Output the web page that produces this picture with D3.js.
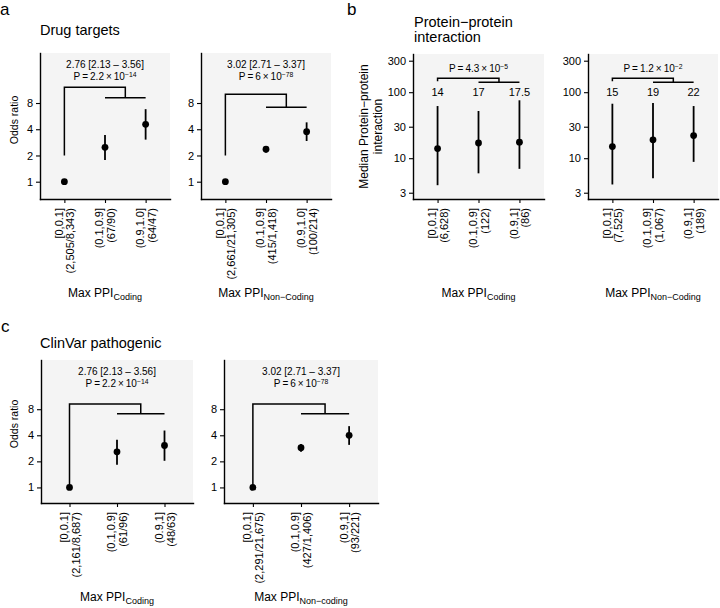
<!DOCTYPE html>
<html><head><meta charset="utf-8">
<script src="https://cdn.jsdelivr.net/npm/d3@7"></script>
<style>
body{margin:0;background:#fff}
svg{display:block;font-family:"Liberation Sans",Arial,Helvetica,sans-serif}
</style>
</head><body>
<svg id="chart" width="720" height="608"></svg>
<script>
// ---------------- data ----------------
const catsDrug = ["[0,0.1]", "(0.1,0.9]", "(0.9,1.0]"];
const catsOther = ["[0,0.1]", "(0.1,0.9]", "(0.9,1]"];

const drugCodingN = ["(2,505/8,343)", "(67/90)", "(64/47)"];
const drugCodingOR = [1, 2.48, 4.56];
const drugCodingLo = [1, 1.77, 3.04];
const drugCodingHi = [1, 3.44, 6.8];

const drugNonCodingN = ["(2,661/21,305)", "(415/1,418)", "(100/214)"];
const drugNonCodingOR = [1, 2.36, 3.75];
const drugNonCodingLo = [1, 2.15, 2.93];
const drugNonCodingHi = [1, 2.57, 4.8];

const ppiCodingN = ["(6,628)", "(122)", "(86)"];
const ppiCodingMed = [14, 17, 17.5];
const ppiCodingLo = [3.9, 5.9, 6.9];
const ppiCodingHi = [61.7, 51.9, 75.4];

const ppiNonCodingN = ["(7,525)", "(1,067)", "(189)"];
const ppiNonCodingMed = [15, 19, 22];
const ppiNonCodingLo = [4.0, 4.95, 8.8];
const ppiNonCodingHi = [66.9, 68.5, 61.7];

const clinCodingN = ["(2,161/8,687)", "(61/96)", "(48/63)"];
const clinCodingOR = [1, 2.58, 3.05];
const clinCodingLo = [1, 1.83, 2.03];
const clinCodingHi = [1, 3.55, 4.54];

const clinNonCodingN = ["(2,291/21,675)", "(427/1,406)", "(93/221)"];
const clinNonCodingOR = [1, 2.87, 4.0];
const clinNonCodingLo = [1, 2.58, 3.1];
const clinNonCodingHi = [1, 3.17, 5.1];

const orTicks = [1, 2, 4, 8];
const ppiTicks = [3, 10, 30, 100, 300];

// annotation texts
const orTextCoding = "2.76 [2.13 \u2013 3.56]";
const orTextNonCoding = "3.02 [2.71 \u2013 3.37]";
const pCodingOR = ["2.2", "\u221214"];
const pNonCodingOR = ["6", "\u221278"];
const pPpiCoding = ["4.3", "\u22125"];
const pPpiNonCoding = ["1.2", "\u22122"];

// bracket levels (in data units): [leg start, top, bar]
const drugCodingBracket = [2, 12.1, 9.2];
const drugNonCodingBracket = [2, 10.1, 7.16];
const clinCodingBracket = [1, 9.2, 7.07];
const clinNonCodingBracket = [1, 9.2, 7.07];
const ppiBracket = [162, 141];
const ppiMedLabelY = 100;

// ---------------- drawing ----------------
const svg = d3.select("#chart");
const FONT_TICK = 11;
const INK = "#000";

function pText(sel, x, y, parts, size) {
  const t = sel.append("text").attr("x", x).attr("y", y)
    .attr("text-anchor", "middle").attr("font-size", size).attr("fill", INK);
  t.append("tspan").text("P\u2009=\u2009" + parts[0] + "\u2009\u00d7\u200910");
  t.append("tspan").attr("font-size", size * 0.68).attr("dy", -size * 0.34).text(parts[1]);
  return t;
}

function panel(cfg) {
  const g = svg.append("g");
  const x = d3.scalePoint().domain([0, 1, 2]).range([cfg.x0, cfg.x1]).padding(0.6);
  const y = d3.scaleLog().domain(cfg.ydom).range([cfg.y1, cfg.y0]);

  g.append("rect").attr("x", cfg.x0).attr("y", cfg.y0)
    .attr("width", cfg.x1 - cfg.x0).attr("height", cfg.y1 - cfg.y0)
    .attr("fill", "#f4f4f4");

  const ya = g.append("g").attr("transform", `translate(${cfg.x0},0)`)
    .call(d3.axisLeft(y).tickValues(cfg.ticks).tickFormat(d3.format("d"))
      .tickSize(4).tickSizeOuter(0).tickPadding(3));
  const xa = g.append("g").attr("transform", `translate(0,${cfg.y1})`)
    .call(d3.axisBottom(x).tickFormat("").tickSize(4).tickSizeOuter(0));
  [ya, xa].forEach(a => {
    a.select(".domain").attr("stroke", INK).attr("stroke-width", 1.4).attr("stroke-linecap", "square");
    a.selectAll(".tick line").attr("stroke", INK).attr("stroke-width", 1.1);
    a.selectAll(".tick text").attr("font-size", FONT_TICK).attr("fill", INK)
      .attr("font-family", "Liberation Sans, Arial, sans-serif");
  });

  cfg.cats.forEach((c, i) => {
    const t = g.append("text")
      .attr("transform", `translate(${x(i)},${cfg.y1 + 9}) rotate(-90)`)
      .attr("text-anchor", "end").attr("font-size", FONT_TICK).attr("fill", INK);
    t.append("tspan").attr("x", 0).attr("y", -1.6).text(c);
    t.append("tspan").attr("x", 0).attr("y", 10).text(cfg.ns[i]);
  });

  cfg.val.forEach((v, i) => {
    if (cfg.hi[i] !== cfg.lo[i]) {
      g.append("line").attr("x1", x(i)).attr("x2", x(i))
        .attr("y1", y(cfg.lo[i])).attr("y2", y(cfg.hi[i]))
        .attr("stroke", INK).attr("stroke-width", 1.8);
    }
    g.append("circle").attr("cx", x(i)).attr("cy", y(v)).attr("r", 3.4).attr("fill", INK);
  });

  const xt = g.append("text").attr("x", x(1)).attr("y", cfg.xTitleY)
    .attr("text-anchor", "middle").attr("font-size", 12).attr("fill", INK);
  xt.append("tspan").text("Max PPI");
  xt.append("tspan").attr("font-size", 9).attr("dy", 3).text(cfg.sub);

  return { g, x, y };
}

function orPanel(cfg) {
  const { g, x, y } = panel(cfg);
  const b = cfg.bracket;
  const xm = (x(1) + x(2)) / 2;
  g.append("path")
    .attr("d", `M${x(0)},${y(b[0])}V${y(b[1])}H${xm}V${y(b[2])}M${x(1)},${y(b[2])}H${x(2)}`)
    .attr("fill", "none").attr("stroke", INK).attr("stroke-width", 1.5);
  g.append("text").attr("x", x(1)).attr("y", cfg.y0 + 15).attr("text-anchor", "middle")
    .attr("font-size", 10).attr("fill", INK).text(cfg.orText);
  pText(g, x(1), cfg.y0 + 27.3, cfg.pParts, 10);
}

function ppiPanel(cfg) {
  const { g, x, y } = panel(cfg);
  const xm = (x(1) + x(2)) / 2;
  const yt = y(ppiBracket[0]), yb = y(ppiBracket[1]);
  g.append("path")
    .attr("d", `M${x(0)},${yt + 3}V${yt}H${xm}V${yb}M${x(1)},${yb}H${x(2)}`)
    .attr("fill", "none").attr("stroke", INK).attr("stroke-width", 1.5);
  pText(g, x(1), cfg.y0 + 18.3, cfg.pParts, 10);
  cfg.val.forEach((v, i) => {
    g.append("text").attr("x", x(i)).attr("y", y(ppiMedLabelY)).attr("dy", "0.36em")
      .attr("text-anchor", "middle").attr("font-size", 11).attr("fill", INK).text(v);
  });
}

// ---- panel a ----
orPanel({ x0: 40, x1: 170, y0: 53, y1: 199, ydom: [0.633, 30], ticks: orTicks,
  cats: catsDrug, ns: drugCodingN, val: drugCodingOR, lo: drugCodingLo, hi: drugCodingHi,
  bracket: drugCodingBracket, orText: orTextCoding, pParts: pCodingOR,
  sub: "Coding", xTitleY: 297 });
orPanel({ x0: 201, x1: 331, y0: 53, y1: 199, ydom: [0.633, 30], ticks: orTicks,
  cats: catsDrug, ns: drugNonCodingN, val: drugNonCodingOR, lo: drugNonCodingLo, hi: drugNonCodingHi,
  bracket: drugNonCodingBracket, orText: orTextNonCoding, pParts: pNonCodingOR,
  sub: "Non\u2212Coding", xTitleY: 297 });

// ---- panel b ----
ppiPanel({ x0: 413, x1: 544, y0: 54, y1: 199, ydom: [2.41, 379], ticks: ppiTicks,
  cats: catsOther, ns: ppiCodingN, val: ppiCodingMed, lo: ppiCodingLo, hi: ppiCodingHi,
  pParts: pPpiCoding, sub: "Coding", xTitleY: 297 });
ppiPanel({ x0: 588, x1: 718, y0: 54, y1: 199, ydom: [2.41, 379], ticks: ppiTicks,
  cats: catsOther, ns: ppiNonCodingN, val: ppiNonCodingMed, lo: ppiNonCodingLo, hi: ppiNonCodingHi,
  pParts: pPpiNonCoding, sub: "Non\u2212Coding", xTitleY: 297 });

// ---- panel c ----
orPanel({ x0: 41, x1: 193, y0: 360, y1: 503, ydom: [0.661, 29.6], ticks: orTicks,
  cats: catsOther, ns: clinCodingN, val: clinCodingOR, lo: clinCodingLo, hi: clinCodingHi,
  bracket: clinCodingBracket, orText: orTextCoding, pParts: pCodingOR,
  sub: "Coding", xTitleY: 601 });
orPanel({ x0: 224, x1: 378, y0: 360, y1: 503, ydom: [0.661, 29.6], ticks: orTicks,
  cats: catsOther, ns: clinNonCodingN, val: clinNonCodingOR, lo: clinNonCodingLo, hi: clinNonCodingHi,
  bracket: clinNonCodingBracket, orText: orTextNonCoding, pParts: pNonCodingOR,
  sub: "Non\u2212coding", xTitleY: 601 });

// ---- titles, labels ----
function txt(x, y, s, size, opts = {}) {
  const t = svg.append("text").attr("x", x).attr("y", y).attr("font-size", size)
    .attr("fill", INK).text(s);
  if (opts.anchor) t.attr("text-anchor", opts.anchor);
  if (opts.rot) t.attr("transform", `rotate(-90,${x},${y})`);
  return t;
}
txt(0, 15, "a", 17);
txt(347, 15, "b", 17);
txt(1, 332, "c", 17);
txt(40, 35, "Drug targets", 14.5);
txt(414, 27, "Protein\u2212protein", 14.5);
txt(414, 42, "interaction", 14.5);
txt(40, 348, "ClinVar pathogenic", 14.5);

txt(18, 120, "Odds ratio", 10.5, { anchor: "middle", rot: true });
txt(18, 424, "Odds ratio", 10.5, { anchor: "middle", rot: true });
txt(368, 126.5, "Median Protein\u2212protein", 12, { anchor: "middle", rot: true });
txt(382, 126.5, "interaction", 12, { anchor: "middle", rot: true });
</script>
</body></html>
